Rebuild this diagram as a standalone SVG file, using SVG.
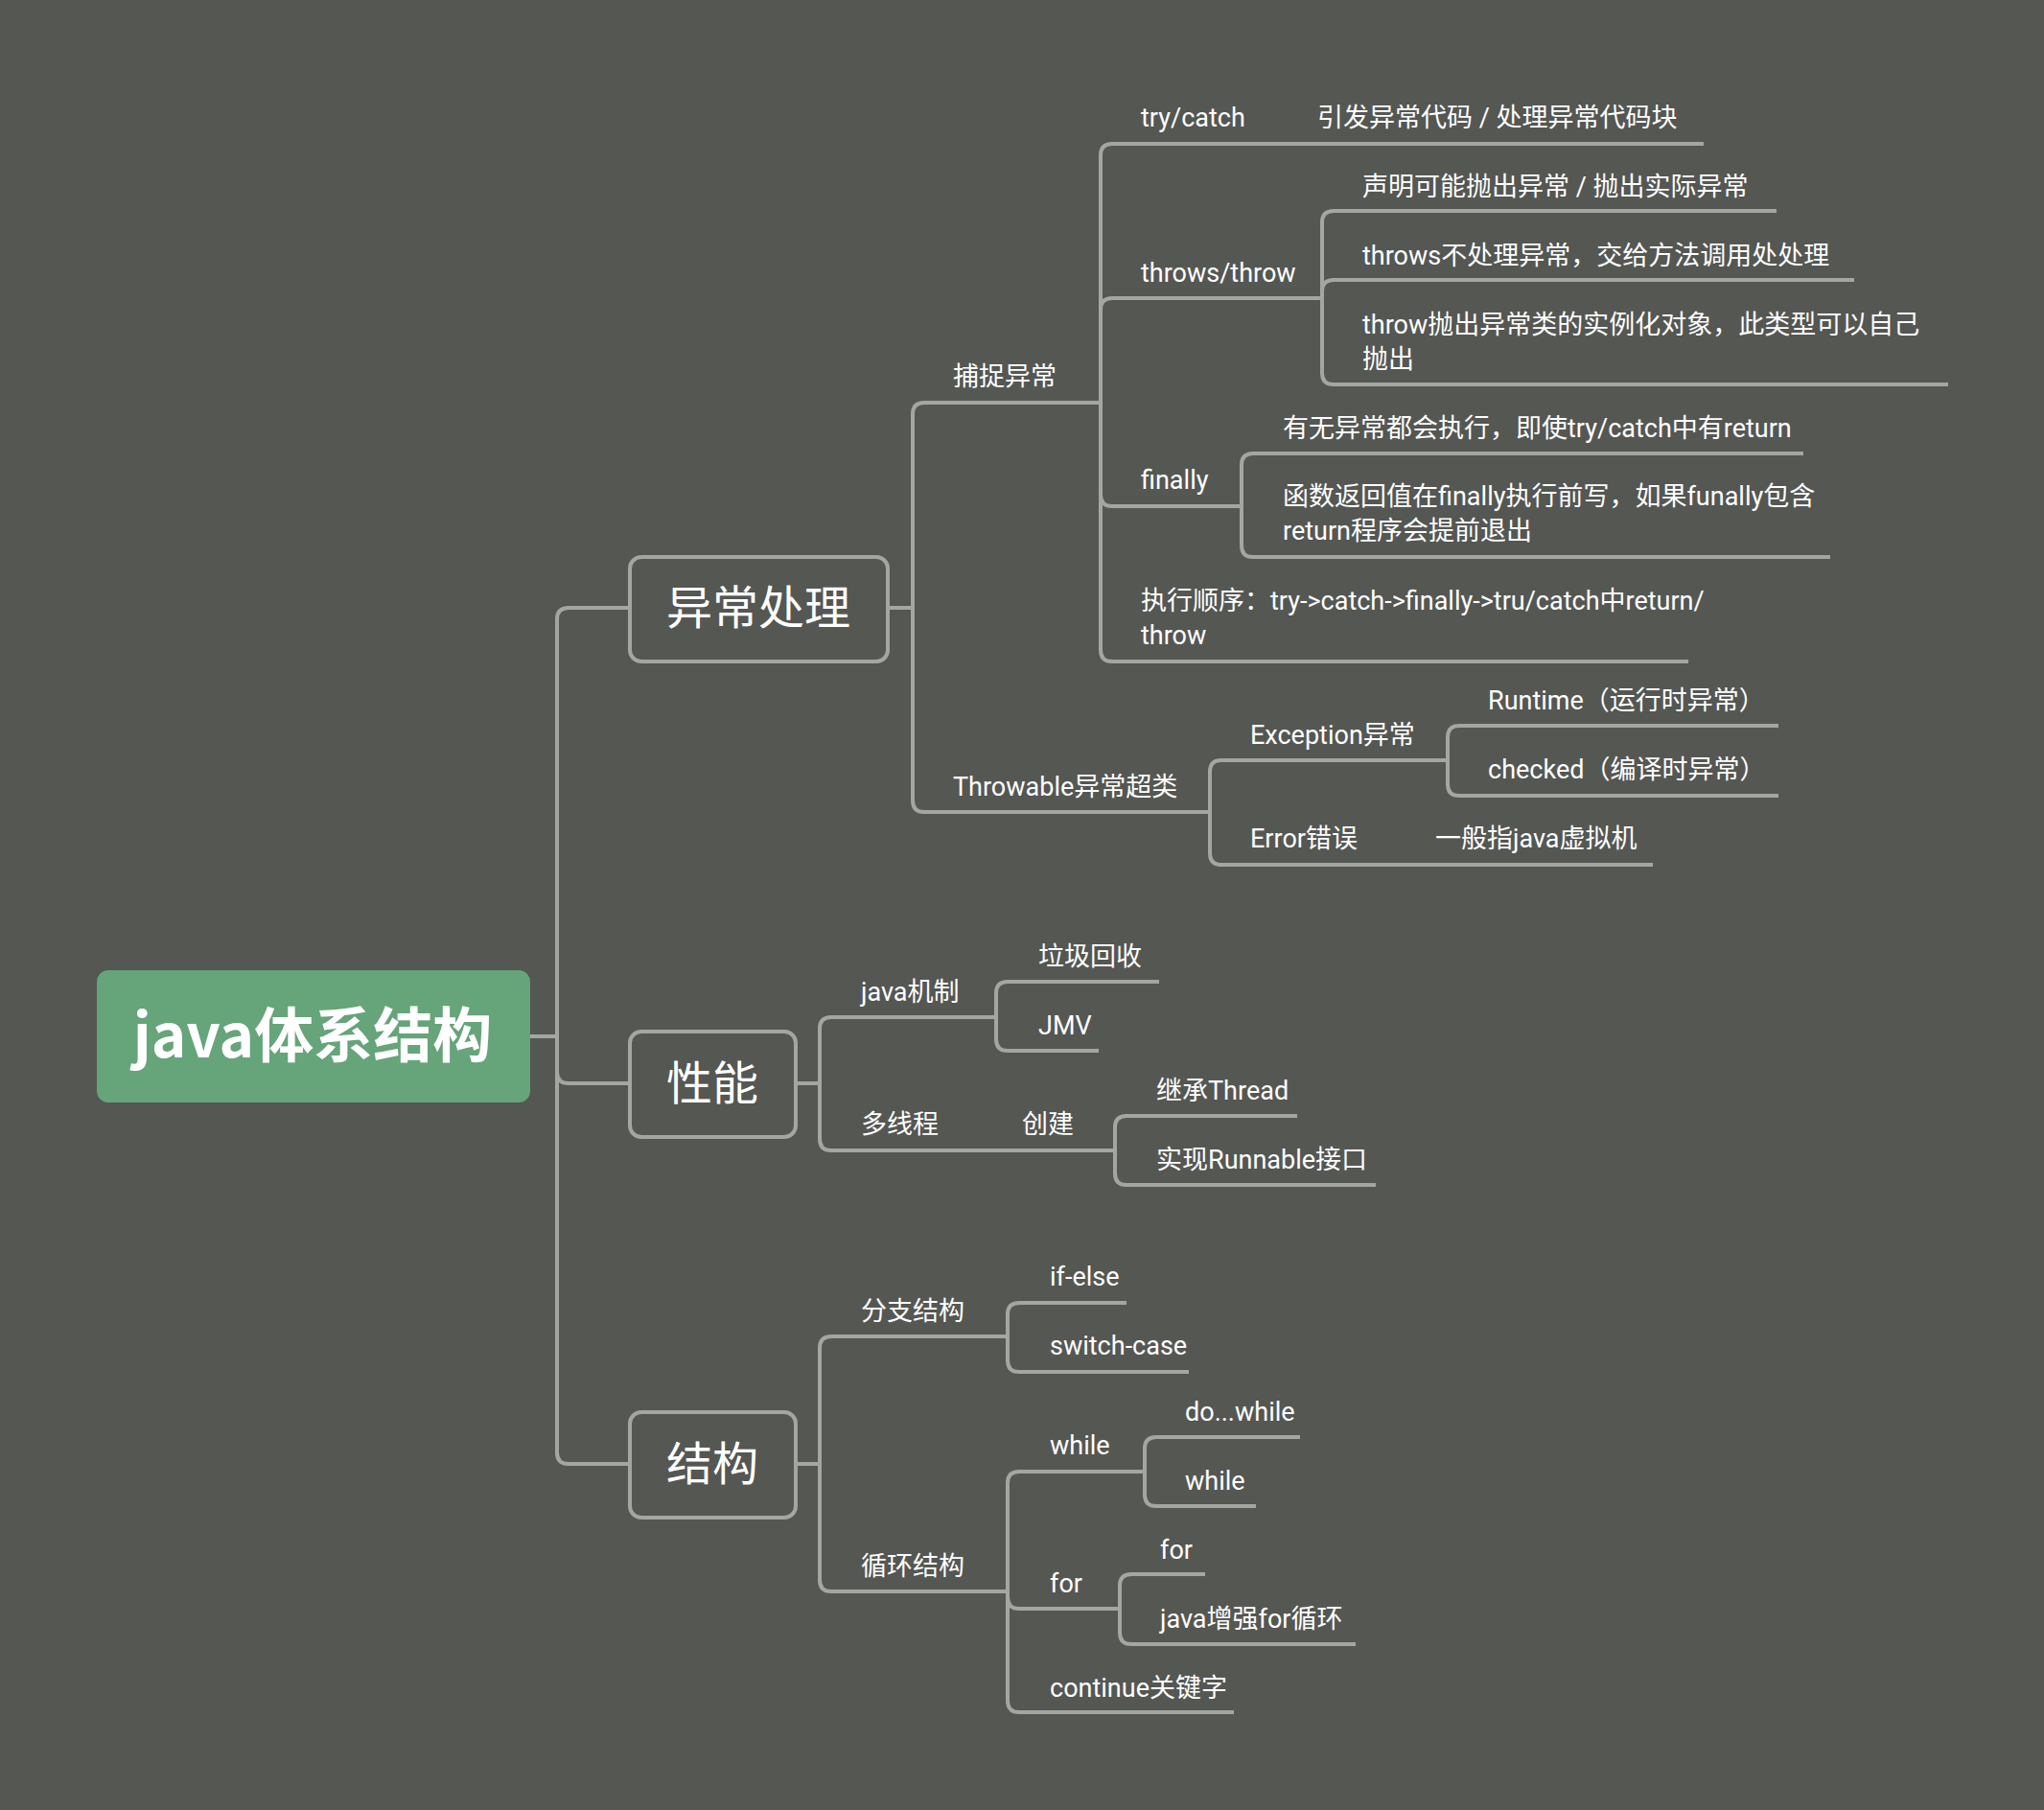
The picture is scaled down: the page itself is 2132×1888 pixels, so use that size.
<svg xmlns="http://www.w3.org/2000/svg" width="2132" height="1888" viewBox="0 0 2132 1888">
<style>
.c{fill:none;stroke:#a4a6a2;stroke-width:4}
.t{font-family:Roboto,"Noto Sans CJK SC",sans-serif;font-size:27px;fill:#ffffff}
.b{fill:#555753;stroke:#a4a6a2;stroke-width:4}
.l1{font-family:"Noto Sans CJK SC",sans-serif;font-size:48px;fill:#ffffff;text-anchor:middle}
</style>
<rect width="2132" height="1888" fill="#555753"/>
<g id="connectors" class="c">
<path d="M553 1081H581M581 1081V646Q581 634 593 634H657M581 1081V1118Q581 1130 593 1130H657M581 1081V1515Q581 1527 593 1527H657"/>
<path d="M926 634H952V432Q952 420 964 420H1148M952 634V835Q952 847 964 847H1262"/>
<path d="M1148 420V162Q1148 150 1160 150H1777M1148 420V323Q1148 311 1160 311H1379M1148 420V516Q1148 528 1160 528H1295M1148 420V678Q1148 690 1160 690H1761"/>
<path d="M1379 311V232Q1379 220 1391 220H1853M1379 311V304Q1379 292 1391 292H1934M1379 311V389Q1379 401 1391 401H2032"/>
<path d="M1295 528V485Q1295 473 1307 473H1881M1295 528V569Q1295 581 1307 581H1909"/>
<path d="M1262 847V805Q1262 793 1274 793H1510M1262 847V890Q1262 902 1274 902H1724"/>
<path d="M1510 793V769Q1510 757 1522 757H1855M1510 793V818Q1510 830 1522 830H1855"/>
<path d="M830 1130H855V1073Q855 1061 867 1061H1039M855 1130V1188Q855 1200 867 1200H1163"/>
<path d="M1039 1061V1036Q1039 1024 1051 1024H1209M1039 1061V1084Q1039 1096 1051 1096H1146"/>
<path d="M1163 1200V1176Q1163 1164 1175 1164H1353M1163 1200V1224Q1163 1236 1175 1236H1435"/>
<path d="M830 1527H855V1406Q855 1394 867 1394H1051M855 1527V1648Q855 1660 867 1660H1051"/>
<path d="M1051 1394V1371Q1051 1359 1063 1359H1175M1051 1394V1419Q1051 1431 1063 1431H1240"/>
<path d="M1051 1660V1547Q1051 1535 1063 1535H1194M1051 1660V1666Q1051 1678 1063 1678H1168M1051 1660V1774Q1051 1786 1063 1786H1287"/>
<path d="M1194 1535V1511Q1194 1499 1206 1499H1356M1194 1535V1559Q1194 1571 1206 1571H1310"/>
<path d="M1168 1678V1654Q1168 1642 1180 1642H1257M1168 1678V1703Q1168 1715 1180 1715H1414"/>
</g>
<g id="root"><rect x="101" y="1012" width="452" height="138" rx="12" fill="#66a47a"/><text x="326" y="1103" font-family="'Noto Sans CJK SC',sans-serif" font-size="62" font-weight="bold" fill="#fff" text-anchor="middle">java体系结构</text></g>
<g id="n-exc"><rect class="b" x="657" y="581" width="269" height="109" rx="12"/><text class="l1" x="791" y="651">异常处理</text></g>
<g id="n-perf"><rect class="b" x="657" y="1076" width="173" height="110" rx="12"/><text class="l1" x="743" y="1147">性能</text></g>
<g id="n-struct"><rect class="b" x="657" y="1473" width="173" height="110" rx="12"/><text class="l1" x="743" y="1544">结构</text></g>
<g id="labels" class="t">
<text x="994" y="402">捕捉异常</text>
<text x="994" y="830">Throwable异常超类</text>
<text x="1190" y="132">try/catch</text>
<text x="1374" y="132">引发异常代码 / 处理异常代码块</text>
<text x="1190" y="294">throws/throw</text>
<text x="1421" y="204">声明可能抛出异常 / 抛出实际异常</text>
<text x="1421" y="276">throws不处理异常，交给方法调用处处理</text>
<text x="1421" y="348">throw抛出异常类的实例化对象，此类型可以自己</text>
<text x="1421" y="384">抛出</text>
<text x="1190" y="510">finally</text>
<text x="1338" y="456">有无异常都会执行，即使try/catch中有return</text>
<text x="1338" y="527">函数返回值在finally执行前写，如果funally包含</text>
<text x="1338" y="563">return程序会提前退出</text>
<text x="1190" y="636">执行顺序：try-&gt;catch-&gt;finally-&gt;tru/catch中return/</text>
<text x="1190" y="672">throw</text>
<text x="1304" y="776">Exception异常</text>
<text x="1552" y="740">Runtime（运行时异常）</text>
<text x="1552" y="812">checked（编译时异常）</text>
<text x="1304" y="884">Error错误</text>
<text x="1497" y="884">一般指java虚拟机</text>
<text x="898" y="1044">java机制</text>
<text x="1083" y="1007">垃圾回收</text>
<text x="1083" y="1079">JMV</text>
<text x="898" y="1182">多线程</text>
<text x="1066" y="1182">创建</text>
<text x="1206" y="1147">继承Thread</text>
<text x="1206" y="1219">实现Runnable接口</text>
<text x="898" y="1377">分支结构</text>
<text x="1095" y="1341">if-else</text>
<text x="1095" y="1413">switch-case</text>
<text x="898" y="1643">循环结构</text>
<text x="1095" y="1517">while</text>
<text x="1236" y="1482">do...while</text>
<text x="1236" y="1554">while</text>
<text x="1095" y="1661">for</text>
<text x="1210" y="1626">for</text>
<text x="1210" y="1698">java增强for循环</text>
<text x="1095" y="1770">continue关键字</text>
</g>
</svg>
